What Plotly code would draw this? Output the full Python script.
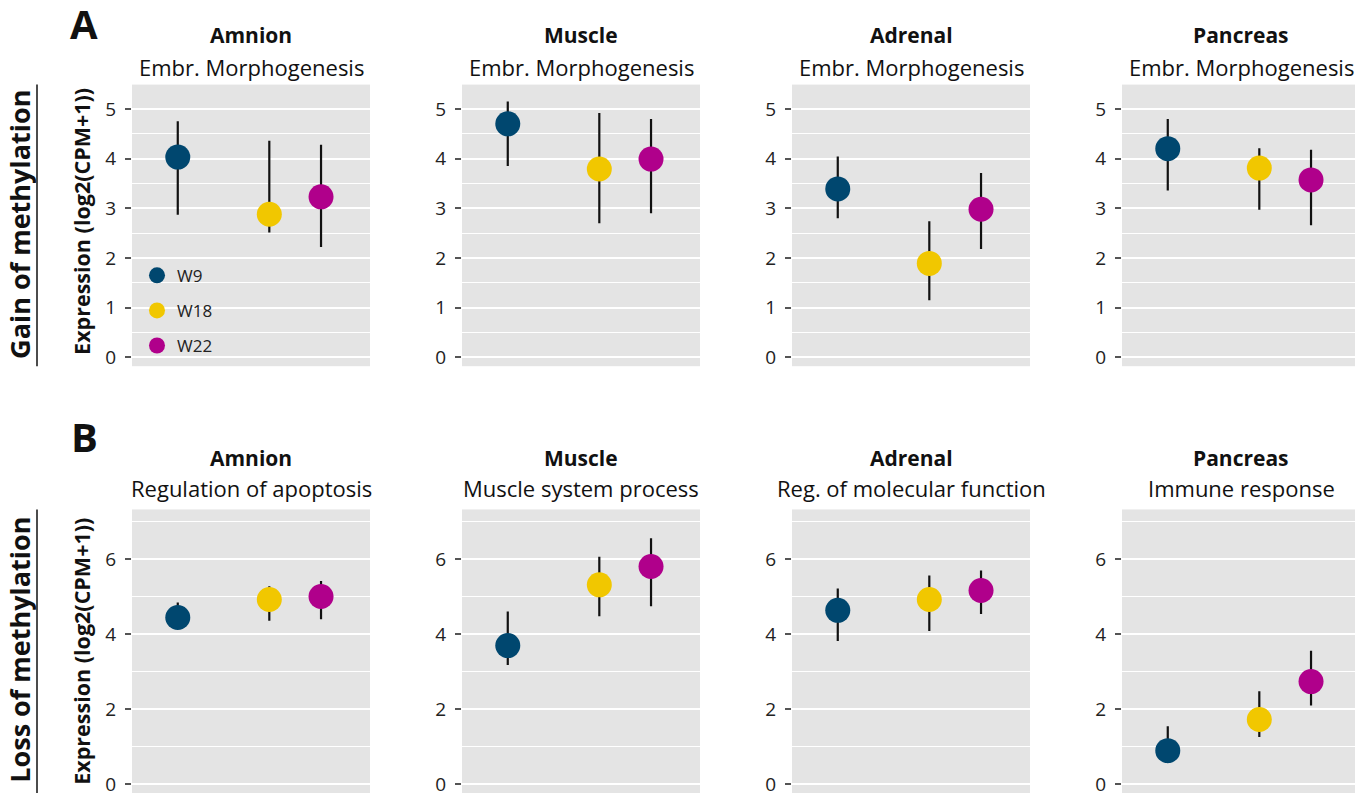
import plotly.graph_objects as go

# ---------------- data ----------------
tissues = ["Amnion", "Muscle", "Adrenal", "Pancreas"]
weeks = ["W9", "W18", "W22"]
gain_terms = ["Embr. Morphogenesis", "Embr. Morphogenesis", "Embr. Morphogenesis", "Embr. Morphogenesis"]
loss_terms = ["Regulation of apoptosis", "Muscle system process", "Reg. of molecular function", "Immune response"]

gain_mean = [[4.03, 2.88, 3.23], [4.70, 3.79, 3.99], [3.39, 1.89, 2.98], [4.20, 3.81, 3.57]]
gain_low = [[2.87, 2.51, 2.22], [3.85, 2.70, 2.90], [2.80, 1.15, 2.18], [3.36, 2.97, 2.66]]
gain_high = [[4.75, 4.36, 4.28], [5.15, 4.92, 4.80], [4.04, 2.74, 3.71], [4.80, 4.21, 4.18]]

loss_mean = [[4.44, 4.92, 5.00], [3.69, 5.31, 5.80], [4.63, 4.92, 5.16], [0.89, 1.72, 2.73]]
loss_low = [[4.25, 4.35, 4.39], [3.17, 4.47, 4.74], [3.81, 4.08, 4.53], [0.70, 1.25, 2.09]]
loss_high = [[4.84, 5.27, 5.41], [4.60, 6.06, 6.55], [5.21, 5.56, 5.69], [1.54, 2.47, 3.55]]

gain_ticks = [0, 1, 2, 3, 4, 5]
loss_ticks = [0, 2, 4, 6]

# ---------------- styling / layout ----------------
OFF = 8                      # page body margin in the browser
W, H = 1363 - OFF, 800 - OFF


def px(x):
    return (x - OFF) / W


def py(y):
    return 1 - (y - OFF) / H


colors = {"W9": "#00476f", "W18": "#f1c700", "W22": "#b0008b"}
week_pos = {"W9": 1.0, "W18": 3.0, "W22": 4.13}
x_range = [0, 5.2]
panel_left = [132, 462, 792, 1122]
panel_w = 238
rows = {
    "gain": dict(top=85, bottom=368, yrange=[-0.18, 5.49], ticks=gain_ticks, minor=0.5,
                 mean=gain_mean, low=gain_low, high=gain_high, terms=gain_terms,
                 title_y=35, sub_y=67, label="Gain of methylation", letter="A", letter_y=24,
                 lab_mid=226, exp_mid=223),
    "loss": dict(top=512, bottom=797, yrange=[-0.24, 7.32], ticks=loss_ticks, minor=1,
                 mean=loss_mean, low=loss_low, high=loss_high, terms=loss_terms,
                 title_y=460, sub_y=490, label="Loss of methylation", letter="B", letter_y=439,
                 lab_mid=653, exp_mid=655),
}
FONT = "Open Sans"
BG = "#e4e4e4"
INK = "#111111"

fig = go.Figure()
layout = {}
annotations = []
shapes = []
idx = 0
for rkey, r in rows.items():
    for c, tissue in enumerate(tissues):
        idx += 1
        xa = "x" if idx == 1 else f"x{idx}"
        ya = "y" if idx == 1 else f"y{idx}"
        xdom = [px(panel_left[c]), px(panel_left[c] + panel_w)]
        ydom = [py(r["bottom"]), py(r["top"])]
        layout["xaxis" if idx == 1 else f"xaxis{idx}"] = dict(
            domain=xdom, anchor=ya, range=x_range, showgrid=False, zeroline=False,
            showticklabels=False, ticks="", showline=False, fixedrange=True)
        layout["yaxis" if idx == 1 else f"yaxis{idx}"] = dict(
            domain=ydom, anchor=xa, range=r["yrange"], tickvals=r["ticks"],
            showgrid=True, gridcolor="white", gridwidth=2.2, zeroline=False,
            ticks="outside", ticklen=6, tickwidth=1.5, tickcolor="#555555",
            ticklabelstandoff=5,
            tickfont=dict(family=FONT, size=19, color="#222222"),
            minor=dict(dtick=r["minor"], tick0=0, showgrid=True, gridcolor="white",
                       gridwidth=1.1, ticks=""),
            showline=False, fixedrange=True)
        cx = px(panel_left[c] + panel_w / 2)
        annotations.append(dict(text=f"<b>{tissue}</b>", x=cx, y=py(r["title_y"]),
                                xref="paper", yref="paper", showarrow=False,
                                xanchor="center", yanchor="middle",
                                font=dict(family=FONT, size=21, color=INK)))
        annotations.append(dict(text=r["terms"][c], x=cx, y=py(r["sub_y"]),
                                xref="paper", yref="paper", showarrow=False,
                                xanchor="center", yanchor="middle",
                                font=dict(family=FONT, size=22, color=INK)))
        for w_i, wk in enumerate(weeks):
            m = r["mean"][c][w_i]
            lo = r["low"][c][w_i]
            hi = r["high"][c][w_i]
            fig.add_trace(go.Scatter(
                x=[week_pos[wk]], y=[m], xaxis=xa, yaxis=ya, mode="markers",
                name=wk, legendgroup=wk, showlegend=(idx == 1),
                marker=dict(size=25, color=colors[wk], line=dict(width=0)),
                error_y=dict(type="data", symmetric=False, array=[hi - m],
                             arrayminus=[m - lo], width=0, thickness=2.2, color=INK),
            ))
    # row label, y-axis title, panel letter, separator line
    annotations.append(dict(text=f"<b>{r['label']}</b>", x=px(20), y=py(r["lab_mid"]),
                            xref="paper", yref="paper", showarrow=False, textangle=-90,
                            xanchor="center", yanchor="middle",
                            font=dict(family=FONT, size=27, color=INK)))
    annotations.append(dict(text="<b>Expression (log2(CPM+1))</b>", x=px(82), y=py(r["exp_mid"]),
                            xref="paper", yref="paper", showarrow=False, textangle=-90,
                            xanchor="center", yanchor="middle",
                            font=dict(family=FONT, size=21.5, color=INK)))
    annotations.append(dict(text=f"<b>{r['letter']}</b>", x=px(84), y=py(r["letter_y"]),
                            xref="paper", yref="paper", showarrow=False,
                            xanchor="center", yanchor="middle",
                            font=dict(family=FONT, size=40, color=INK)))
    shapes.append(dict(type="line", xref="paper", yref="paper", x0=px(37), x1=px(37),
                       y0=py(r["bottom"]), y1=py(r["top"]),
                       line=dict(color=INK, width=1.5)))

fig.update_layout(
    width=W, height=H, margin=dict(l=0, r=0, t=0, b=0),
    paper_bgcolor="white", plot_bgcolor=BG,
    annotations=annotations, shapes=shapes,
    showlegend=True,
    legend=dict(x=px(137), y=py(259), xanchor="left", yanchor="top",
                bgcolor="rgba(0,0,0,0)", itemsizing="trace", tracegroupgap=10,
                font=dict(family=FONT, size=17, color="#222222")),
    **layout,
)

fig.write_html("out.html")
